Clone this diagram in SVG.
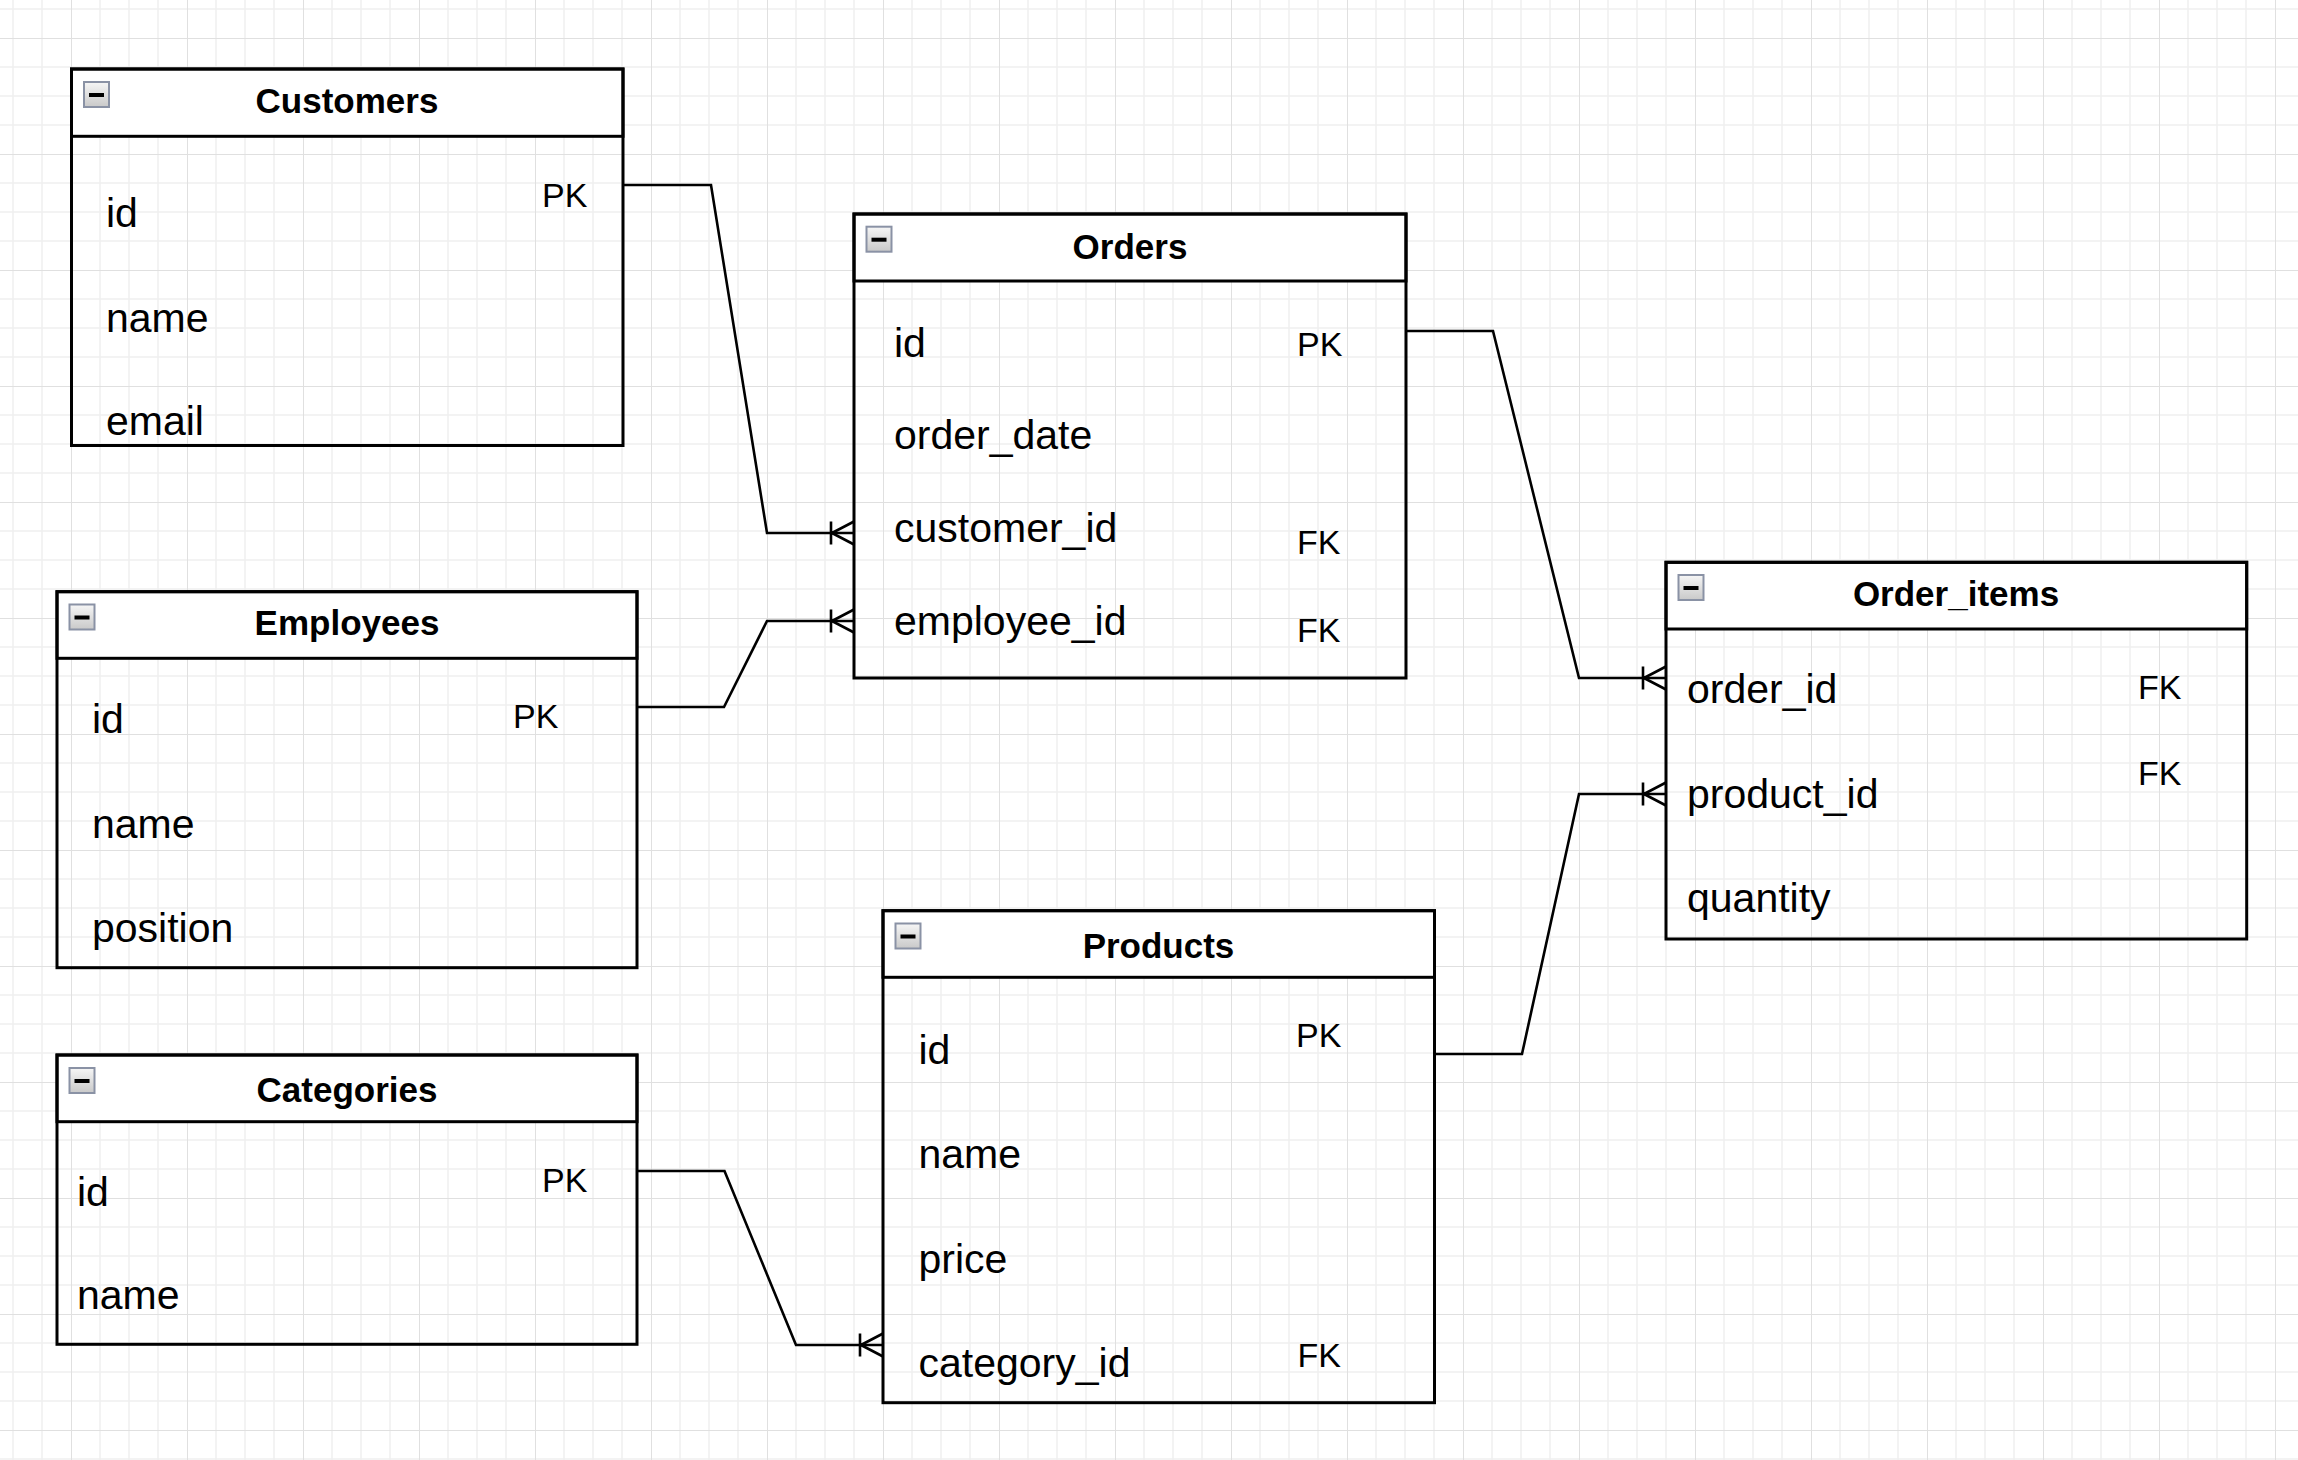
<svg xmlns="http://www.w3.org/2000/svg" width="2298" height="1460" viewBox="0 0 2298 1460">
<style>
.box{fill:none;stroke:#000;stroke-width:3}
.hdr{fill:#fff;stroke:#000;stroke-width:3}
.title{font-family:"Liberation Sans",Arial,sans-serif;font-weight:bold;font-size:35px;fill:#000;text-anchor:middle}
.fld{font-family:"Liberation Sans",Arial,sans-serif;font-size:41px;fill:#000}
.key{font-family:"Liberation Sans",Arial,sans-serif;font-size:34px;fill:#000}
.edge{fill:none;stroke:#000;stroke-width:2.6;marker-end:url(#crow)}
.icon{fill:url(#ig);stroke:#8a92a5;stroke-width:2}
.minus{fill:#000}
</style>
<defs>
<pattern id="grid" patternUnits="userSpaceOnUse" x="71" y="38" width="116" height="116">
<path d="M29,0V116M58,0V116M87,0V116M0,29H116M0,58H116M0,87H116" fill="none" stroke="#efefef" stroke-width="1.5"/>
<path d="M0,0V116M0,0H116" fill="none" stroke="#e0e0e0" stroke-width="2"/>
</pattern>
<linearGradient id="ig" x1="0" y1="0" x2="0" y2="1">
<stop offset="0" stop-color="#f6f6f6"/>
<stop offset="1" stop-color="#c9c9c9"/>
</linearGradient>
<marker id="crow" markerUnits="userSpaceOnUse" markerWidth="40" markerHeight="40" refX="0" refY="0" orient="auto" overflow="visible">
<path d="M-23,-11.5V11.5M-22,0L0,-11.5M-22,0L0,11.5" fill="none" stroke="#000" stroke-width="2.6"/>
</marker>
</defs>
<rect x="0" y="0" width="2298" height="1460" fill="#fff"/>
<rect x="0" y="0" width="2298" height="1460" fill="url(#grid)"/>

<g id="connectors">
<path class="edge" d="M623,185H711L767,533H854"/>
<path class="edge" d="M637,707H724L767,621H854"/>
<path class="edge" d="M1406,331H1493L1579,678H1666"/>
<path class="edge" d="M1434.5,1054H1522L1579,794H1666"/>
<path class="edge" d="M637,1171H724.5L796,1345H883"/>
</g>

<g id="customers">
<rect class="hdr" x="71.5" y="69" width="551.5" height="67.3"/>
<rect class="box" x="71.5" y="69" width="551.5" height="376.5"/>
<rect class="icon" x="84" y="82" width="25" height="25"/><rect class="minus" x="89" y="93" width="15" height="4"/>
<text class="title" x="347" y="113">Customers</text>
<text class="fld" x="106" y="227">id</text>
<text class="fld" x="106" y="332">name</text>
<text class="fld" x="106" y="435">email</text>
<text class="key" x="542" y="207">PK</text>
</g>

<g id="orders">
<rect class="hdr" x="854" y="214" width="552" height="67"/>
<rect class="box" x="854" y="214" width="552" height="464"/>
<rect class="icon" x="866.5" y="226.7" width="25" height="25"/><rect class="minus" x="871.5" y="237.7" width="15" height="4"/>
<text class="title" x="1130" y="259">Orders</text>
<text class="fld" x="894" y="357">id</text>
<text class="fld" x="894" y="449">order_date</text>
<text class="fld" x="894" y="542">customer_id</text>
<text class="fld" x="894" y="635">employee_id</text>
<text class="key" x="1297" y="356">PK</text>
<text class="key" x="1297" y="554">FK</text>
<text class="key" x="1297" y="642">FK</text>
</g>

<g id="employees">
<rect class="hdr" x="57" y="591.7" width="580" height="66.6"/>
<rect class="box" x="57" y="591.7" width="580" height="376"/>
<rect class="icon" x="69.5" y="604.5" width="25" height="25"/><rect class="minus" x="74.5" y="615.5" width="15" height="4"/>
<text class="title" x="347" y="635">Employees</text>
<text class="fld" x="92" y="733">id</text>
<text class="fld" x="92" y="838">name</text>
<text class="fld" x="92" y="942">position</text>
<text class="key" x="513" y="728">PK</text>
</g>

<g id="categories">
<rect class="hdr" x="57" y="1055" width="580" height="66.7"/>
<rect class="box" x="57" y="1055" width="580" height="289.3"/>
<rect class="icon" x="69.5" y="1068" width="25" height="25"/><rect class="minus" x="74.5" y="1079" width="15" height="4"/>
<text class="title" x="347" y="1102">Categories</text>
<text class="fld" x="77" y="1206">id</text>
<text class="fld" x="77" y="1309">name</text>
<text class="key" x="542" y="1192">PK</text>
</g>

<g id="products">
<rect class="hdr" x="883" y="910.7" width="551.5" height="66.6"/>
<rect class="box" x="883" y="910.7" width="551.5" height="492"/>
<rect class="icon" x="895.5" y="923.5" width="25" height="25"/><rect class="minus" x="900.5" y="934.5" width="15" height="4"/>
<text class="title" x="1158.5" y="958">Products</text>
<text class="fld" x="918.5" y="1064">id</text>
<text class="fld" x="918.5" y="1168">name</text>
<text class="fld" x="918.5" y="1273">price</text>
<text class="fld" x="918.5" y="1377">category_id</text>
<text class="key" x="1296" y="1047">PK</text>
<text class="key" x="1297.5" y="1367">FK</text>
</g>

<g id="order_items">
<rect class="hdr" x="1666" y="562.3" width="580.7" height="66.7"/>
<rect class="box" x="1666" y="562.3" width="580.7" height="376.7"/>
<rect class="icon" x="1678.5" y="575" width="25" height="25"/><rect class="minus" x="1683.5" y="586" width="15" height="4"/>
<text class="title" x="1956" y="606">Order_items</text>
<text class="fld" x="1687" y="703">order_id</text>
<text class="fld" x="1687" y="808">product_id</text>
<text class="fld" x="1687" y="912">quantity</text>
<text class="key" x="2138" y="699">FK</text>
<text class="key" x="2138" y="785">FK</text>
</g>
</svg>
